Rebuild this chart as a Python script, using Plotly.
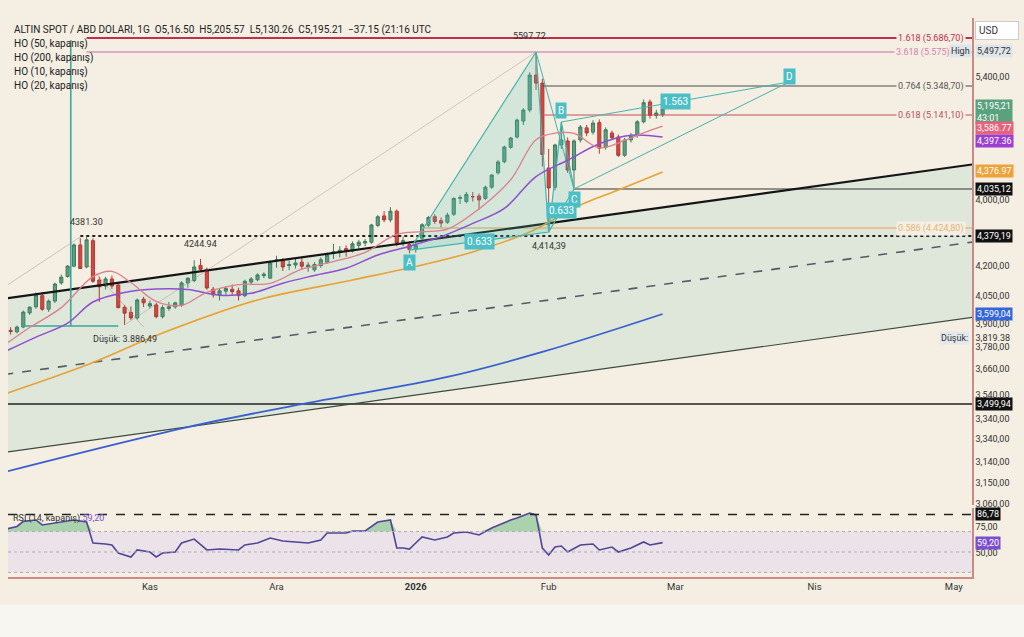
import pandas as pd
import plotly.graph_objects as go

# --- 1. Dati ---

holidays = ["2025-12-25", "2026-01-01"]
dates = [d.strftime("%Y-%m-%d") for d in pd.bdate_range("2025-10-01", "2026-02-26")
         if d.strftime("%Y-%m-%d") not in holidays]
future = [d.strftime("%Y-%m-%d") for d in pd.bdate_range("2026-02-27", "2026-05-08")]
days = dates + future

open_ = [3840, 3852, 3843, 3873, 3962, 4000, 4070, 3985, 4036, 4150,
         4190, 4255, 4388, 4250, 4415, 4168, 4130, 4175, 4137, 3997,
         3965, 3930, 4048, 4005, 4012, 3938, 3990, 4000, 4010, 4150,
         4165, 4260, 4235, 4110, 4075, 4098, 4110, 4100, 4070, 4155,
         4170, 4195, 4180, 4290, 4292, 4258, 4262, 4280, 4250, 4232,
         4258, 4280, 4335, 4340, 4365, 4350, 4385, 4400, 4405, 4510,
         4570, 4545, 4600, 4400, 4390, 4360, 4430, 4512, 4565, 4540,
         4530, 4580, 4680, 4660, 4690, 4695, 4680, 4750, 4840, 4910,
         5000, 5065, 5165, 5234, 5453, 5403, 4870, 4750, 5015, 5040,
         4858, 5046, 5122, 5095, 5155, 5000, 5090, 5065, 4950, 5046,
         5075, 5160, 5285, 5200, 5205]
high = [3858, 3872, 3882, 3976, 4002, 4090, 4092, 4046, 4152, 4202,
        4262, 4398, 4430, 4440, 4430, 4190, 4188, 4196, 4150, 4012,
        4002, 4052, 4062, 4040, 4025, 4010, 4030, 4032, 4160, 4182,
        4292, 4300, 4246, 4125, 4115, 4130, 4140, 4120, 4170, 4186,
        4210, 4216, 4290, 4320, 4305, 4290, 4300, 4310, 4280, 4280,
        4310, 4340, 4395, 4380, 4385, 4410, 4420, 4425, 4520, 4575,
        4600, 4625, 4610, 4440, 4410, 4410, 4525, 4570, 4580, 4560,
        4590, 4685, 4700, 4720, 4720, 4710, 4760, 4832, 4920, 5010,
        5065, 5180, 5245, 5470, 5597.72, 5430, 4990, 5022, 5160, 5062,
        5050, 5140, 5140, 5170, 5175, 5125, 5105, 5080, 5060, 5090,
        5170, 5300, 5300, 5235, 5250]
low = [3822, 3826, 3834, 3866, 3950, 3988, 3975, 3968, 4024, 4138,
       4183, 4248, 4238, 4242, 4150, 4030, 4108, 4112, 3990, 3886.49,
       3918, 3920, 3998, 3990, 3928, 3928, 3975, 3988, 4000, 4120,
       4155, 4225, 4108, 4058, 4040, 4070, 4070, 4040, 4060, 4140,
       4160, 4180, 4175, 4245, 4225, 4230, 4240, 4235, 4220, 4220,
       4245, 4270, 4300, 4310, 4315, 4340, 4365, 4380, 4395, 4500,
       4530, 4530, 4380, 4380, 4335, 4340, 4420, 4500, 4520, 4495,
       4520, 4570, 4645, 4650, 4660, 4610, 4670, 4740, 4830, 4900,
       4990, 5055, 5140, 5220, 5360, 4880, 4480, 4730, 4990, 4840,
       4745, 5030, 5070, 5080, 4960, 4985, 5045, 4940, 4940, 5030,
       5060, 5150, 5180, 5180, 5190]
close = [3838, 3845, 3873, 3967, 3998, 4075, 3985, 4036, 4143, 4186,
         4255, 4388, 4240, 4420, 4160, 4125, 4175, 4130, 3995, 3960,
         3930, 4043, 4025, 4020, 3938, 3995, 4000, 4025, 4150, 4180,
         4250, 4235, 4118, 4075, 4100, 4115, 4095, 4070, 4160, 4175,
         4200, 4205, 4275, 4295, 4250, 4265, 4275, 4255, 4262, 4265,
         4295, 4325, 4345, 4355, 4350, 4395, 4405, 4410, 4513, 4565,
         4545, 4600, 4400, 4415, 4360, 4385, 4515, 4560, 4535, 4525,
         4575, 4680, 4685, 4705, 4690, 4670, 4750, 4826, 4908, 5002,
         5058, 5171, 5234, 5453, 5403, 4955, 4745, 5015, 5046, 4858,
         5040, 5127, 5090, 5152, 4995, 5110, 5060, 4950, 5046, 5070,
         5160, 5280, 5200, 5215, 5240]

# medie mobili (campionate a vista)
ma10_idx = [0, 4, 9, 14, 17, 20, 24, 28, 32, 37, 42, 47, 52, 57, 62, 66, 70, 75, 80, 84, 87, 90, 94, 98, 101, 104]
ma10_val = [3760, 3870, 3995, 4189, 4222, 4152, 4034, 4009, 4091, 4139, 4147, 4236, 4283, 4341,
            4454, 4471, 4487, 4614, 4797, 5048, 5089, 5087, 4997, 5043, 5091, 5133]
ma20_idx = [0, 5, 10, 14, 19, 24, 29, 34, 39, 44, 49, 54, 59, 64, 69, 74, 79, 84, 89, 94, 99, 104]
ma20_val = [3717, 3810, 3898, 4030, 4090, 4111, 4108, 4073, 4085, 4148, 4197, 4242, 4325, 4380,
            4440, 4523, 4617, 4817, 4919, 5022, 5076, 5065]
ma50_idx = [0, 13, 25, 40, 55, 66, 74, 83, 91, 97, 104]
ma50_val = [3453, 3635, 3836, 4043, 4168, 4262, 4344, 4469, 4638, 4732, 4845]
ma200_idx = [0, 29, 48, 70, 85, 104]
ma200_val = [2964, 3246, 3397, 3560, 3717, 3955]

rsi_idx = [0, 2, 3, 5, 6, 8, 11, 13, 14, 16, 17, 18, 20, 21, 23, 24, 25, 27, 28, 30,
           32, 34, 37, 38, 40, 42, 44, 46, 48, 50, 51, 54, 55, 57, 59, 61, 62, 63, 64, 65,
           66, 68, 70, 71, 73, 75, 77, 80, 81, 83, 84, 85, 86, 87, 88, 89, 91, 93, 94, 96,
           97, 99, 101, 102, 104]
rsi_val = [72, 75, 80, 81.4, 76.5, 78.4, 81.4, 79.4, 58.8, 57.8, 56.9, 49.0, 45.1, 52.0, 50.0, 45.1, 49.0, 50.0, 58.8, 62.7,
           52.0, 52.9, 52.0, 56.9, 58.8, 63.7, 60.8, 59.8, 58.8, 61.8, 68.6, 68.6, 70.6, 70.6, 79.4, 81.4, 53.9, 53.9, 52.9, 58.8,
           64.7, 61.8, 64.7, 68.6, 69.6, 66.7, 73.5, 81.4, 83.3, 88.2, 86.3, 53.9, 47.1, 54.9, 55.9, 50.0, 56.9, 57.8, 52.0, 54.9,
           50.0, 53.9, 59.8, 56.9, 59.2]

# canale
chan_idx = [0, 153]
chan_upper = [4052, 4893]
chan_mid = [3576, 4406]
chan_lower = [3087, 3934]

# livelli orizzontali
lvl_price = [5685.5, 5597.7, 5384.5, 5202.7, 4494.2, 4444.0, 4738.7, 3390.7]
lvl_start = [13, 13, 85, 85, 66, 12, 90, 0]
lvl_style = [("#c0304a", 2, "solid"), ("#c86aa8", 1.2, "solid"), ("#4a4a4a", 1.2, "solid"),
             ("#c0505a", 1.2, "solid"), ("#eab87a", 1.5, "solid"), ("#222222", 2, "dot"),
             ("#333333", 1.2, "solid"), ("#222222", 1.5, "solid")]

fib_text = ["1.618 (5.686,70)", "3.618 (5.575)", "0.764 (5.348,70)", "0.618 (5.141,10)", "0.586 (4.424,80)"]
fib_price = [5685.5, 5597.7, 5384.5, 5202.7, 4494.2]
fib_color = ["#c0304a", "#d77fb0", "#555555", "#b8505a", "#e6b47a"]

# pattern XABCD
pat_idx = [64, 84, 86, 88, 90, 124]
pat_price = [4356, 5597.72, 4469, 5159, 4739, 5410]

# asse destro
ytick_text = ["5,400,00", "4,000,00", "4,200,00", "4,050,00", "3,900,00", "3,819.38", "3,780,00",
              "3,660,00", "3,540,00", "3,340,00", "3,340,00", "3,140,00", "3,150,00", "3,060,00"]
ytick_pos = [5441.0, 4670.0, 4255.9, 4067.8, 3892.0, 3804.5, 3748.0,
             3610.1, 3447.0, 3296.6, 3171.2, 3027.0, 2895.4, 2762.0]
box_text = ["5,497,72", "5,195,21<br>43:01", "3,586.77", "4,397.36", "4,376.97",
            "4,035,12", "4,379,19", "3,599,04", "3,499,94"]
box_pos = [5604.0, 5221.5, 5121.2, 5039.7, 4851.6, 4738.7, 4444.0, 3955.0, 3390.7]
box_color = [("#dfe5ea", "#333"), ("#5aa27e", "white"), ("#e5637c", "white"), ("#9b3fd0", "white"),
             ("#f0a23a", "white"), ("#111111", "white"), ("#111111", "white"), ("#3465d9", "white"),
             ("#111111", "white")]

tick_dates = ["2025-11-03", "2025-12-01", "2026-01-02", "2026-02-02", "2026-03-02", "2026-04-01", "2026-05-01"]
tick_text = ["Kas", "Ara", "<b>2026</b>", "Fub", "Mar", "Nis", "May"]

BG = "#f4efe2"
FONT = "Roboto"


def at(idx_list):
    return [days[i] for i in idx_list]


def line(x, y, color, width=1, dash="solid", **kw):
    return go.Scatter(x=x, y=y, mode="lines", line=dict(color=color, width=width, dash=dash),
                      hoverinfo="skip", showlegend=False, **kw)


# --- 2. Figura ---
fig = go.Figure()

for price, start, (col, w, d) in zip(lvl_price, lvl_start, lvl_style):
    fig.add_trace(line([days[start], days[153]], [price, price], col, w, d))

fig.add_trace(line(at(chan_idx), chan_lower, "#3d4a40", 1.2))
fig.add_trace(line(at(chan_idx), chan_mid, "#555a66", 1.6, "dash"))
fig.add_trace(line(at(chan_idx), chan_upper, "#151515", 2.2))

# linee sottili diagonali
fig.add_trace(line(["2025-10-01", "2025-10-17"], [4124, 4438], "rgba(170,140,140,0.6)", 0.8))
fig.add_trace(line(["2025-10-20", "2025-10-31"], [4275, 3873], "rgba(150,140,140,0.6)", 0.8))
fig.add_trace(line(["2025-10-28", "2026-01-29"], [3886.49, 5597.72], "rgba(170,140,140,0.55)", 0.8))

# strumento di misura
fig.add_trace(line(["2025-10-15 12:00", "2025-10-15 12:00"], [3880, 5673], "#3aa89a", 1.6))
fig.add_trace(line(["2025-10-03 18:00", "2025-10-27"], [3880, 3880], "#3aa89a", 1.6))

# medie mobili
fig.add_trace(line(at(ma200_idx), ma200_val, "#3a5fd0", 1.8, line_shape="spline"))
fig.add_trace(line(at(ma50_idx), ma50_val, "#e8a235", 1.6, line_shape="spline"))

# pattern
px = at(pat_idx)
fig.add_trace(line([px[0], px[1], px[2], px[0]], [pat_price[0], pat_price[1], pat_price[2], pat_price[0]],
                   "#45b3ad", 1.2, fill="toself", fillcolor="rgba(80,195,185,0.2)"))
fig.add_trace(line([px[2], px[3], px[4], px[2]], [pat_price[2], pat_price[3], pat_price[4], pat_price[2]],
                   "#45b3ad", 1.2, fill="toself", fillcolor="rgba(80,195,185,0.2)"))
fig.add_trace(line([px[1], px[4]], [pat_price[1], pat_price[4]], "#45b3ad", 1))
fig.add_trace(line([px[3], px[5]], [pat_price[3], pat_price[5]], "#45b3ad", 1))
fig.add_trace(line([px[4], px[5]], [pat_price[4], pat_price[5]], "#45b3ad", 1))

fig.add_trace(line(at(ma20_idx), ma20_val, "#8e4fd0", 1.5, line_shape="spline"))
fig.add_trace(line(at(ma10_idx), ma10_val, "#dc7f8e", 1.3, line_shape="spline"))

fig.add_trace(go.Candlestick(
    x=dates, open=open_, high=high, low=low, close=close,
    increasing=dict(line=dict(color="#3f7d62", width=1), fillcolor="#5e9f82"),
    decreasing=dict(line=dict(color="#b23a35", width=1), fillcolor="#d3473f"),
    hoverinfo="skip", showlegend=False))

# RSI
rsi_x = at(rsi_idx)
fig.add_trace(line(rsi_x, [70] * len(rsi_x), "rgba(0,0,0,0)", 0, yaxis="y2"))
fig.add_trace(line(rsi_x, [max(v, 70) for v in rsi_val], "rgba(0,0,0,0)", 0, yaxis="y2",
                   fill="tonexty", fillcolor="rgba(110,185,130,0.55)"))
fig.add_trace(line(rsi_x, rsi_val, "#4f4793", 1.6, yaxis="y2"))

# --- 3. Layout ---
c0, c1 = at(chan_idx)
shapes = [
    # riempimento del canale sotto le candele
    dict(type="path", xref="x", yref="y", layer="below", fillcolor="#dee7da", line=dict(width=0),
         path=f"M {c0},{chan_lower[0]} L {c1},{chan_lower[1]} L {c1},{chan_upper[1]} L {c0},{chan_upper[0]} Z"),
    dict(type="rect", xref="paper", x0=0, x1=1, yref="y2", y0=30, y1=70,
         fillcolor="#ebe2ea", line=dict(width=0), layer="below"),
    dict(type="line", xref="paper", x0=0, x1=1, yref="y2", y0=86.78, y1=86.78,
         line=dict(color="#222", width=1.5, dash="dash")),
    # fascia chiara in fondo
    dict(type="rect", xref="paper", x0=-0.01, x1=1.06, yref="paper", y0=-0.108, y1=-0.05,
         fillcolor="#f8f6f0", line=dict(width=0), layer="below"),
]
for lv in [70, 50, 30]:
    shapes.append(dict(type="line", xref="paper", x0=0, x1=1, yref="y2", y0=lv, y1=lv,
                       line=dict(color="#b5aab5", width=1, dash="dot")))

ann = []
small = dict(family=FONT, size=9, color="#333")
# intestazione
ann.append(dict(xref="paper", yref="paper", x=0, y=0.9785, xanchor="left", yanchor="middle", xshift=4,
                text="ALTIN SPOT / ABD DOLARI, 1G  O5,16.50  H5,205.57  L5,130.26  C5,195.21  −37.15 (21:16 UTC",
                showarrow=False, font=dict(family=FONT, size=10, color="#222")))
for i, t in enumerate(["HO (50, kapanış)", "HO (200, kapanış)", "HO (10, kapanış)", "HO (20, kapanış)"]):
    ann.append(dict(xref="paper", yref="paper", x=0, y=0.9535 - i * 0.025, xanchor="left", yanchor="middle",
                    xshift=4, text=t, showarrow=False, font=dict(family=FONT, size=10, color="#222")))
ann.append(dict(xref="paper", yref="paper", x=0, y=0.1038, xanchor="left", yanchor="middle", xshift=3,
                text="RSI (14, kapanış) <span style='color:#7b4fd0'>59,20</span>",
                showarrow=False, font=dict(family=FONT, size=9, color="#333")))

# etichette fib
for t, p, c in zip(fib_text, fib_price, fib_color):
    ann.append(dict(xref="paper", yref="y", x=1, y=p, xanchor="right", yanchor="middle",
                    xshift=-20 if t.startswith("3.618") else -6, text=t, showarrow=False,
                    bgcolor=BG, borderpad=1, font=dict(family=FONT, size=9, color=c)))

# etichette nel grafico
for t, d, p in [("5597.72", "2026-01-28", 5698), ("4381.30", "2025-10-20", 4532),
                ("4244.94", "2025-11-13", 4394), ("Düşük: 3.886,49", "2025-10-28", 3798),
                ("4,414,39", "2026-02-02", 4381)]:
    ann.append(dict(x=d, y=p, text=t, showarrow=False, font=small))

# etichette pattern
teal = dict(family=FONT, size=10, color="white")
pat_labels = [("A", px[0], 4281), ("B", px[3], 5234), ("C", px[4], 4670), ("D", px[5], 5447),
              ("0.633", days[75], 4412), ("0.633", days[88], 4604), ("1.563", days[106], 5285)]
for t, d, p in pat_labels:
    ann.append(dict(x=d, y=p, text=t, showarrow=False, bgcolor="#4cbfc6", borderpad=2, font=teal))

# asse destro: riquadri
for t, p, (bg, fg) in zip(box_text, box_pos, box_color):
    ann.append(dict(xref="paper", yref="y", x=1, y=p, xanchor="left", yanchor="middle", xshift=3,
                    text=t, showarrow=False, bgcolor=bg, borderpad=1, align="left",
                    font=dict(family=FONT, size=9, color=fg)))
for t, p, bg in [("86,78", 86.78, "#111111"), ("59,20", 59.2, "#7b4fd0")]:
    ann.append(dict(xref="paper", yref="y2", x=1, y=p, xanchor="left", yanchor="middle", xshift=3,
                    text=t, showarrow=False, bgcolor=bg, borderpad=1,
                    font=dict(family=FONT, size=9, color="white")))
ann.append(dict(xref="paper", yref="y", x=1, y=5604.0, xanchor="right", yanchor="middle", xshift=0,
                text="High", showarrow=False, bgcolor="#dfe5ea", borderpad=1,
                font=dict(family=FONT, size=9, color="#333")))
ann.append(dict(xref="paper", yref="y", x=1, y=3804.5, xanchor="right", yanchor="middle", xshift=-2,
                text="Düşük:", showarrow=False, bgcolor="#e3e8ec", borderpad=1,
                font=dict(family=FONT, size=9, color="#333")))
ann.append(dict(xref="paper", yref="paper", x=1, y=0.977, xanchor="left", yanchor="middle", xshift=3,
                text="USD", showarrow=False, bgcolor="white", bordercolor="#cccccc", borderwidth=1,
                borderpad=3, width=36, align="left", font=dict(family=FONT, size=10, color="#333")))

fig.update_layout(
    width=1024, height=637,
    margin=dict(l=8, r=52, t=18, b=60),
    paper_bgcolor=BG, plot_bgcolor=BG,
    showlegend=False,
    font=dict(family=FONT, size=9, color="#333"),
    xaxis=dict(type="date", anchor="y2", range=["2025-10-01 14:00", "2026-05-05 21:00"],
               rangebreaks=[dict(bounds=["sat", "mon"]), dict(values=holidays)],
               tickvals=tick_dates, ticktext=tick_text, showgrid=False, zeroline=False,
               showline=True, linecolor="#d08a85", linewidth=1.5, ticks="", ticklen=0,
               rangeslider=dict(visible=False), tickfont=dict(size=9.5, color="#333")),
    yaxis=dict(domain=[0.1288, 1], range=[2757.4, 5810.9], side="right", anchor="x",
               tickvals=ytick_pos, ticktext=ytick_text, showgrid=False, zeroline=False,
               showline=True, linecolor="#c98a85", linewidth=1.5, ticks="", ticklen=0,
               automargin=False, tickfont=dict(size=9, color="#333")),
    yaxis2=dict(domain=[0, 0.1234], range=[25.5, 93.1], side="right", anchor="x",
                tickvals=[74.5, 49.0], ticktext=["75,00", "50,00"], showgrid=False, zeroline=False,
                showline=True, linecolor="#c98a85", linewidth=1.5, ticks="", ticklen=0,
                automargin=False, tickfont=dict(size=9, color="#333")),
    shapes=shapes,
    annotations=ann,
)

fig.write_html("out.html", config={"displayModeBar": False},
               post_script="document.body.style.margin='0';")
